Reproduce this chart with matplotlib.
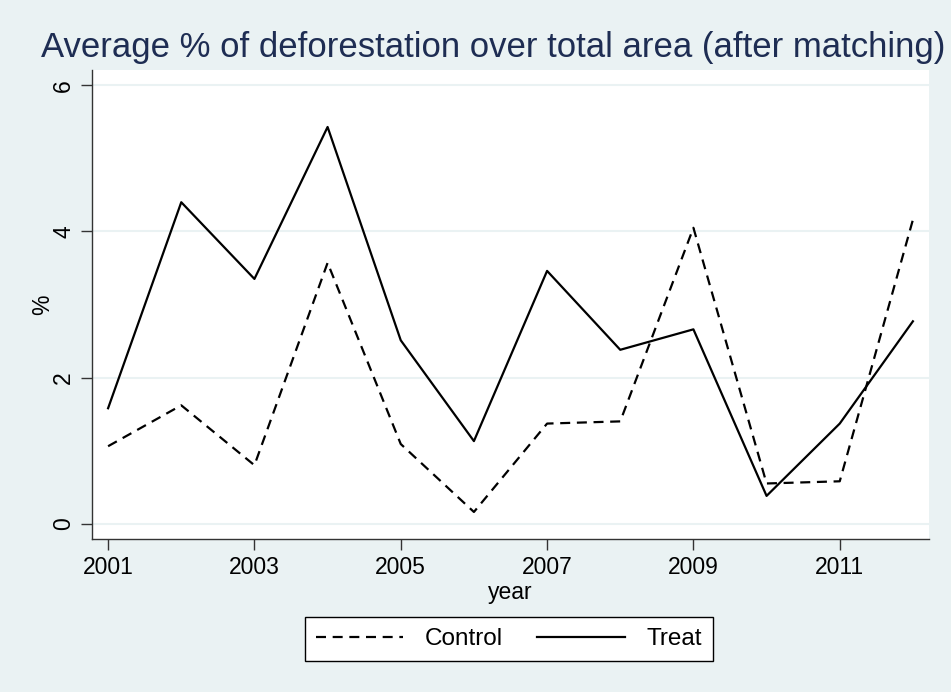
import matplotlib
matplotlib.use("Agg")
import matplotlib.pyplot as plt

# annual average % of deforestation, matched sample
years   = [2001, 2002, 2003, 2004, 2005, 2006, 2007, 2008, 2009, 2010, 2011, 2012]
control = [1.06, 1.62, 0.80, 3.57, 1.09, 0.16, 1.37, 1.40, 4.05, 0.55, 0.58, 4.16]
treat   = [1.58, 4.40, 3.35, 5.43, 2.51, 1.13, 3.46, 2.38, 2.66, 0.38, 1.37, 2.77]

BG    = "#EAF2F3"
NAVY  = "#1E2D53"

plt.rcParams.update({"font.family": ["Liberation Sans", "DejaVu Sans"]})

fig = plt.figure(figsize=(9.51, 6.92), dpi=100, facecolor=BG)
ax = fig.add_axes([92 / 951, 1 - 539 / 692, (929 - 92) / 951, (539 - 70) / 692])
ax.set_facecolor("white")

ax.plot(years, control, color="black", lw=1.6, dashes=(4.5, 3), label="Control")
ax.plot(years, treat, color="black", lw=1.6, label="Treat")

ax.set_xlim(2000.78, 2012.22)
ax.set_ylim(-0.21, 6.21)
ax.set_xticks([2001, 2003, 2005, 2007, 2009, 2011])
ax.set_yticks([0, 2, 4, 6])
ax.set_yticklabels(["0", "2", "4", "6"], rotation=90, va="center")
ax.tick_params(axis="both", labelsize=16.5, length=8, width=1, color="#333333", pad=4)

ax.grid(axis="y", color=BG, lw=1.5)
ax.set_axisbelow(True)
for side in ("top", "right"):
    ax.spines[side].set_visible(False)
for side in ("left", "bottom"):
    ax.spines[side].set_color("#333333")
    ax.spines[side].set_linewidth(1)

ax.set_xlabel("year", fontsize=16.5, labelpad=2)
ax.set_ylabel("%", fontsize=16.5, labelpad=-1)
fig.text(0.5 * (42 + 945) / 951, 1 - 48 / 692,
         "Average % of deforestation over total area (after matching)",
         ha="center", va="center", fontsize=25, color=NAVY)

leg = fig.legend(loc="center", bbox_to_anchor=(509 / 951, 1 - 639 / 692),
                 ncol=2, fontsize=17.5, frameon=True, fancybox=False,
                 edgecolor="black", framealpha=1, handlelength=3.6,
                 handletextpad=0.9, columnspacing=1.4, borderpad=0.45)
leg.get_frame().set_linewidth(1)

fig.savefig("out.png", dpi=100, facecolor=BG)
